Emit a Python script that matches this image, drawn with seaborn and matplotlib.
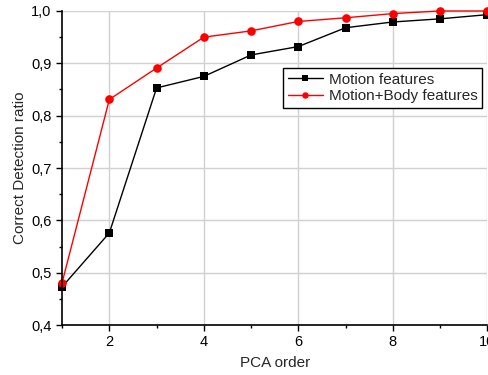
import pandas as pd
import matplotlib
matplotlib.use("Agg")
import matplotlib.pyplot as plt
import seaborn as sns
from matplotlib.ticker import MultipleLocator, FuncFormatter

# Data
pca_order = [1, 2, 3, 4, 5, 6, 7, 8, 9, 10]
motion = [0.473, 0.576, 0.853, 0.875, 0.916, 0.932, 0.968, 0.979, 0.985, 0.993]
motion_body = [0.481, 0.831, 0.891, 0.950, 0.962, 0.980, 0.987, 0.995, 1.000, 1.000]
series_names = ["Motion features", "Motion+Body features"]

df = pd.DataFrame({
    "PCA order": pca_order * 2,
    "ratio": motion + motion_body,
    "series": [series_names[0]] * len(pca_order) + [series_names[1]] * len(pca_order),
})

sns.set_style("white")
plt.rcParams["font.family"] = ["Liberation Sans", "DejaVu Sans"]

fig = plt.figure(figsize=(4.89, 3.75), dpi=100)
ax = fig.add_axes([0.127, 0.1333, 0.8695, 0.8374])

sns.lineplot(data=df, x="PCA order", y="ratio", hue="series", style="series",
             palette={series_names[0]: "black", series_names[1]: "red"},
             markers={series_names[0]: "s", series_names[1]: "o"},
             dashes=False, markersize=6.2, markeredgewidth=0, linewidth=1,
             ax=ax, clip_on=False, zorder=3)

ax.set_xlim(1, 10)
ax.set_ylim(0.4, 1.0)
ax.xaxis.set_major_locator(MultipleLocator(2))
ax.xaxis.set_minor_locator(MultipleLocator(1))
ax.yaxis.set_major_locator(MultipleLocator(0.1))
ax.yaxis.set_minor_locator(MultipleLocator(0.05))
ax.yaxis.set_major_formatter(FuncFormatter(lambda v, p: f"{v:.1f}".replace(".", ",")))

ax.grid(True, which="major", color="#d0d0d0", linewidth=1)
ax.set_axisbelow(True)
for s in ["top", "right"]:
    ax.spines[s].set_visible(False)
for s in ["left", "bottom"]:
    ax.spines[s].set_color("black")
    ax.spines[s].set_linewidth(1.2)
    ax.spines[s].set_zorder(4)

ax.tick_params(which="major", direction="out", length=4, width=1, colors="black",
               labelsize=10.5, left=True, bottom=True)
ax.tick_params(which="minor", direction="out", length=2.5, width=1, colors="black",
               left=True, bottom=True)

ax.set_xlabel("PCA order", fontsize=11, labelpad=5)
ax.set_ylabel("Correct Detection ratio", fontsize=11, labelpad=3)

leg = ax.legend(loc="upper left", bbox_to_anchor=(0.579, 0.818),
                bbox_transform=fig.transFigure, fontsize=11, frameon=True,
                fancybox=False, edgecolor="black", framealpha=1,
                handlelength=2.3, borderpad=0.3, labelspacing=0.15,
                handletextpad=0.4, borderaxespad=0, markerscale=0.75)
leg.get_frame().set_linewidth(1)
leg.set_zorder(5)

fig.savefig("out.png", dpi=100)
